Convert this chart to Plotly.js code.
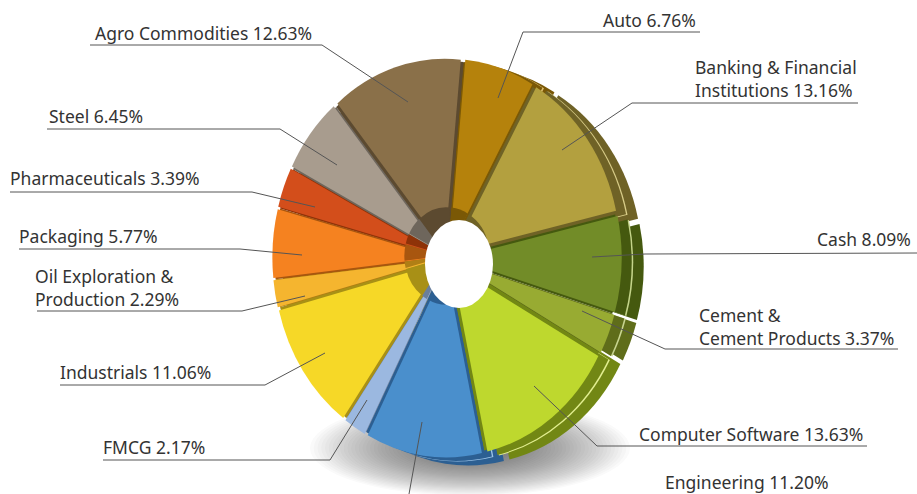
<!DOCTYPE html>
<html><head><meta charset="utf-8">
<script src="https://cdn.plot.ly/plotly-3.0.1.min.js"></script>
<style>
html,body{margin:0;padding:0;background:#fff;width:917px;height:494px;overflow:hidden}
#pies{position:absolute;left:0;top:0;transform-origin:0 0;transform:scaleX(0.875)}
#labels{position:absolute;left:0;top:0}
</style></head><body>
<div id="pies"></div><div id="labels"></div>
<script>
const categories = ["Auto","Banking & Financial Institutions","Cash","Cement & Cement Products","Computer Software","Engineering","FMCG","Industrials","Oil Exploration & Production","Packaging","Pharmaceuticals","Steel","Agro Commodities"];
const values = [6.76,13.16,8.09,3.37,13.63,11.20,2.17,11.06,2.29,5.77,3.39,6.45,12.63];
const faceColors = ["#B5820C","#B3A03F","#728C28","#98AB32","#BED82E","#4A8FCC","#9BB8E0","#F6D827","#F5B52F","#F58220","#D34E1B","#A89C8E","#8A7049"];
const sideColors = ["#7A5806","#6F6226","#45590F","#5F6D1A","#728714","#2C5F92","#6A7F9C","#A89016","#B07F15","#A8560F","#8E3208","#6E665C","#5C4A30"];
const rimColors  = ["#E0C070","#D8CC88","#C4D48A","#C8D490","#E2EE90","#9CC4E8","#C4D4EC","#FBEC90","#FAD890","#FBC088","#EEA080","#D4CCC4","#C4B498"];
const tickLabels = ["Auto 6.76%","Banking & Financial<br>Institutions 13.16%","Cash 8.09%","Cement &<br>Cement Products 3.37%","Computer Software 13.63%","Engineering 11.20%","FMCG 2.17%","Industrials 11.06%","Oil Exploration &<br>Production 2.29%","Packaging 5.77%","Pharmaceuticals 3.39%","Steel 6.45%","Agro Commodities 12.63%"];

const labelPos = [[603,20],[695,78],[817,239],[699,326],[639,434],[665,481.5],[103,447],[60,372],[35,287],[19,236],[10,178],[49,116],[95,33]];
const leaders = [
 [[700,32],[523,32],[498,98]],
 [[858,103],[632,103],[562,150]],
 [[917,253],[645,254],[592,257]],
 [[898,349],[665,349],[582,311]],
 [[867,446],[597,446],[534,386]],
 [[409,494],[422,422]],
 [[103,460],[330,460],[367,400]],
 [[60,385],[265,385],[325,353]],
 [[37,311],[242,311],[305,296]],
 [[19,249],[240,249],[302,255]],
 [[10,192],[252,192],[315,207]],
 [[47,129],[280,129],[337,165]],
 [[90,45],[322,45],[408,102]]
];

const W = 917, H = 494, SX = 0.875, PW = W / SX;
const PULL = 0.045, ROT = 5.5, R = 191;
function pie(cx, cy, r, colors, pull, hole) {
  const rr = r * (1 + pull), x = cx / SX;
  return {type:"pie", labels:categories, values:values, sort:false, direction:"clockwise", rotation:ROT,
    pull:pull, hole:hole||0, textinfo:"none", hoverinfo:"skip", showlegend:false,
    marker:{colors:colors, line:{width:0}},
    domain:{x:[(x-rr)/PW,(x+rr)/PW], y:[1-(cy+rr)/H,1-(cy-rr)/H]}};
}
const shadow = [];
const N = 40;
for (let i = 0; i < N; i++) {
  const k = 1 - i/N, rx = (150*k+10)/SX, ry = 44*k+4, cx = 470/SX, cy = 448;
  shadow.push({type:"circle", xref:"paper", yref:"paper", layer:"below",
    x0:(cx-rx)/PW, x1:(cx+rx)/PW, y0:1-(cy+ry)/H, y1:1-(cy-ry)/H,
    fillcolor:"rgba(60,60,60,0.024)", line:{width:0}});
}
Plotly.newPlot("pies", [
  pie(469,266,R,sideColors,PULL),
  pie(458.5,262,R,rimColors,PULL),
  pie(457,261.5,R,sideColors,PULL),
  pie(447,258,197,sideColors,0),
  pie(447,258,R,faceColors,PULL),
  pie(447,256,46,sideColors,0.06)
], {width:PW, height:H, margin:{l:0,r:0,t:0,b:0,pad:0}, paper_bgcolor:"rgba(0,0,0,0)", shapes:shadow}, {displayModeBar:false, staticPlot:true});

const px = p => p[0]/W, py = p => 1-p[1]/H;
const annotations = tickLabels.map((t,i)=>({text:t, x:px(labelPos[i]), y:py(labelPos[i]), xref:"paper", yref:"paper",
  xanchor:"left", yanchor:"middle", align:"left", showarrow:false, borderpad:0, borderwidth:0,
  font:{family:"Noto Sans",size:17.5,color:"#333"}}));
const lines = leaders.map(pts=>({type:"path", xref:"paper", yref:"paper",
  path:pts.map((p,i)=>(i?"L":"M")+px(p)+","+py(p)).join(" "), line:{color:"#555",width:1}}));
lines.unshift({type:"circle", xref:"paper", yref:"paper", x0:425/W, x1:493/W, y0:1-308/H, y1:1-220/H, fillcolor:"#fff", line:{width:0}});
Plotly.newPlot("labels", [], {width:W, height:H, margin:{l:0,r:0,t:0,b:0},
  paper_bgcolor:"rgba(0,0,0,0)", plot_bgcolor:"rgba(0,0,0,0)",
  xaxis:{visible:false}, yaxis:{visible:false}, annotations:annotations, shapes:lines}, {displayModeBar:false, staticPlot:true});
</script></body></html>
